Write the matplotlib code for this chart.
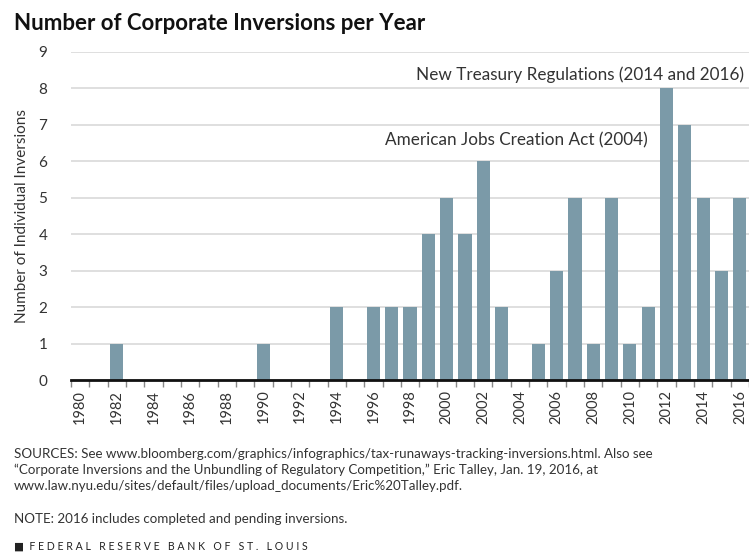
import numpy as np
import matplotlib
matplotlib.use('Agg')
import matplotlib.pyplot as plt

plt.rcParams['font.family'] = ['Lato', 'DejaVu Sans']

years = list(range(1980, 2017))
inversions = [0, 0, 1, 0, 0, 0, 0, 0, 0, 0,
              1, 0, 0, 0, 2, 0, 2, 2, 2, 4,
              5, 4, 6, 2, 0, 1, 3, 5, 1, 5,
              1, 2, 8, 7, 5, 3, 5]
tick_years = years[::2]
annotations = [("New Treasury Regulations (2014 and 2016)", 2016.2, 8.37),
               ("American Jobs Creation Act (2004)", 2011.0, 6.58)]

bar_color = '#7b9aa8'

fig = plt.figure(figsize=(7.49, 5.53), dpi=100)
ax = fig.add_axes([0.0948, 0.3128, 0.9052, 0.5932])

x = np.arange(len(years))
ax.bar(x, inversions, width=0.72, color=bar_color, zorder=3)

ax.set_xlim(-0.5, len(years) - 0.5)
ax.set_ylim(0, 9)
ax.set_yticks(range(0, 10))
ax.grid(axis='y', color='#d9d9d9', linewidth=1.2, zorder=0)
ax.tick_params(axis='y', length=0, labelsize=11, pad=17, labelcolor='#333333')

# boundary ticks, labels at bar centers
ax.set_xticks(np.arange(-0.5, len(years), 1.0))
ax.set_xticklabels([])
ax.tick_params(axis='x', which='major', length=5, color='#888888', width=1)
ax.set_xticks(x[::2], minor=True)
ax.set_xticklabels([str(y) for y in tick_years], minor=True, rotation=90,
                   fontsize=10.5, color='#333333')
ax.tick_params(axis='x', which='minor', length=0, pad=7)

for side in ['top', 'right', 'left']:
    ax.spines[side].set_visible(False)
ax.spines['bottom'].set_linewidth(2)
ax.spines['bottom'].set_color('#111111')
ax.spines['bottom'].set_zorder(4)

ax.set_ylabel('Number of Individual Inversions', fontsize=11, color='#333333', labelpad=7)

for text, xv, yv in annotations:
    ax.text(xv - 1980, yv, text, ha='right', va='center', fontsize=12.3, color='#333333')

fig.text(0.019, 0.958, 'Number of Corporate Inversions per Year', fontsize=16,
         fontweight='bold', ha='left', va='center', color='#111111')

src = ('SOURCES: See www.bloomberg.com/graphics/infographics/tax-runaways-tracking-inversions.html. Also see\n'
       '\u201cCorporate Inversions and the Unbundling of Regulatory Competition,\u201d Eric Talley, Jan. 19, 2016, at\n'
       'www.law.nyu.edu/sites/default/files/upload_documents/Eric%20Talley.pdf.')
fig.text(0.019, 1 - 448 / 553, src, fontsize=9.6, ha='left', va='top',
         color='#333333', linespacing=1.35)
fig.text(0.019, 1 - 519 / 553, 'NOTE: 2016 includes completed and pending inversions.',
         fontsize=9.6, ha='left', va='center', color='#333333')
fig.text(0.019, 1 - 546 / 553, '\u25a0  F E D E R A L   R E S E R V E   B A N K   O F   S T .   L O U I S',
         fontsize=7.6, ha='left', va='center', color='#222222')

fig.savefig('out.png', dpi=100)
